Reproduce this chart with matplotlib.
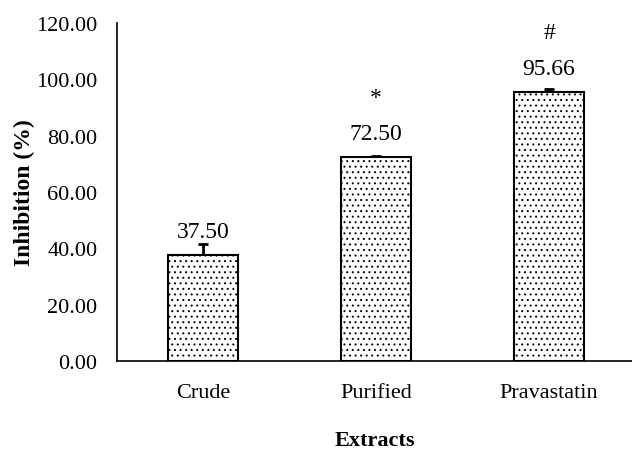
import matplotlib.pyplot as plt
import numpy as np

plt.rcParams['font.family'] = ['Liberation Serif', 'DejaVu Serif']
plt.rcParams['hatch.color'] = '#8a8a8a'
plt.rcParams['hatch.linewidth'] = 0.7

extracts = ['Crude', 'Purified', 'Pravastatin']
inhibition = [37.50, 72.50, 95.66]
errors = [4.2, 0.4, 0.9]
marks = ['', '*', '#']
yticks = [0, 20, 40, 60, 80, 100, 120]

fig = plt.figure(figsize=(6.32, 4.52), dpi=100)
ax = fig.add_axes([0.185, 0.199, 0.815, 0.748])

x = np.arange(len(extracts))
ax.errorbar(x, inhibition, yerr=[np.zeros(3), errors], fmt='none',
            ecolor='black', elinewidth=2, capsize=3.6, capthick=2, zorder=1)
ax.bar(x, inhibition, width=0.405, color='white', edgecolor='black',
       linewidth=1.5, hatch='...', zorder=2)

for xi, v, m in zip(x, inhibition, marks):
    ax.text(xi, v + 6.4, f'{v:.2f}', ha='center', va='baseline', fontsize=17)
    if m:
        ax.text(xi, v + 19.0, m, ha='center', va='baseline', fontsize=17)

ax.set_ylim(0, 120)
ax.set_xlim(-0.5, 2.48)
ax.set_yticks(yticks)
ax.set_yticklabels([f'{t:.2f}' for t in yticks])
ax.set_xticks(x)
ax.set_xticklabels(extracts)
ax.tick_params(length=0, labelsize=16)
ax.tick_params(axis='x', pad=16)
ax.tick_params(axis='y', pad=14)
for s in ['top', 'right']:
    ax.spines[s].set_visible(False)
ax.spines['left'].set_linewidth(1.2)
ax.spines['bottom'].set_linewidth(1.2)

ax.set_ylabel('Inhibition (%)', fontsize=17, fontweight='bold', labelpad=1)
ax.set_xlabel('Extracts', fontsize=16, fontweight='bold', labelpad=20)

fig.savefig('out.png', dpi=100)
